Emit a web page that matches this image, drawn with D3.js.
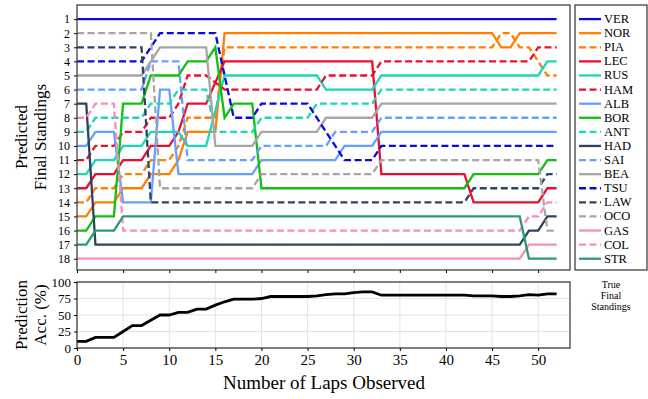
<!DOCTYPE html>
<html>
<head>
<meta charset="utf-8">
<script src="https://cdn.jsdelivr.net/npm/d3@7"></script>
<style>
  body { margin: 0; background: #fff; }
  text { font-family: "Liberation Serif", "DejaVu Serif", serif; fill: #000; }
</style>
</head>
<body>
<svg id="chart" width="648" height="399"></svg>
<script>
// drivers in true final order (legend order)
const drivers = ["VER","NOR","PIA","LEC","RUS","HAM","ALB","BOR","ANT","HAD","SAI","BEA","TSU","LAW","OCO","GAS","COL","STR"];
const colors  = ["#0a0ae0","#ff8000","#ff8000","#e8102e","#1dd6b6","#e8102e","#64a0ff","#10c010","#1dd6b6","#2f435e","#64a0ff","#a6a6a6","#0a0ae0","#2f435e","#a6a6a6","#f88cbe","#f88cbe","#2a9a72"];
const dashed  = [false,false,true,false,false,true,false,false,true,false,true,false,true,true,true,false,true,false];

// predicted final position, as [lap, position] keyframes
const VER = [[0,1],[52,1]];
const NOR = [[0,15],[1,15],[2,14],[4,14],[5,13],[7,13],[8,12],[10,12],[11,11],[12,9],[15,9],[16,2],[45,2],[46,3],[47,3],[48,2],[52,2]];
const PIA = [[0,14],[1,14],[2,13],[4,13],[5,12],[7,12],[8,11],[10,11],[11,10],[12,8],[15,8],[16,3],[45,3],[46,2],[47,2],[48,3],[49,3],[50,4],[51,5],[52,5]];
const LEC = [[0,13],[1,13],[2,12],[4,12],[5,11],[7,11],[8,10],[10,10],[11,9],[12,7],[14,7],[16,4],[32,4],[33,12],[42,12],[43,14],[50,14],[51,13],[52,13]];
const RUS = [[0,12],[1,12],[2,11],[4,11],[5,10],[7,10],[8,9],[10,9],[11,9],[12,10],[14,10],[16,5],[26,5],[27,6],[32,6],[33,5],[50,5],[51,4],[52,4]];
const HAM = [[0,11],[1,11],[2,10],[4,10],[5,9],[7,9],[8,8],[10,8],[11,7],[12,5],[14,5],[16,6],[26,6],[27,5],[32,5],[33,4],[49,4],[50,3],[52,3]];
const ALB = [[0,10],[1,10],[2,9],[4,9],[5,14],[8,14],[9,6],[10,6],[11,12],[19,12],[20,11],[28,11],[29,10],[32,10],[33,9],[52,9]];
const BOR = [[0,16],[1,16],[2,15],[4,15],[5,7],[7,7],[8,5],[11,5],[12,4],[14,4],[15,3],[16,8],[17,7],[19,7],[20,13],[42,13],[43,12],[50,12],[51,11],[52,11]];
const ANT = [[0,9],[1,9],[2,8],[7,8],[8,7],[10,7],[11,6],[14,6],[15,9],[19,9],[20,8],[25,8],[26,7],[32,7],[33,6],[52,6]];
const HAD = [[0,7],[1,7],[2,17],[48,17],[49,16],[50,16],[51,15],[52,15]];
const SAI = [[0,6],[7,6],[8,4],[11,4],[12,11],[19,11],[20,10],[27,10],[28,9],[32,9],[33,8],[52,8]];
const BEA = [[0,5],[7,5],[9,3],[14,3],[15,10],[19,10],[20,9],[26,9],[27,8],[32,8],[33,7],[52,7]];
const TSU = [[0,4],[7,4],[9,2],[15,2],[17,8],[19,8],[20,7],[25,7],[29,11],[32,11],[33,10],[52,10]];
const LAW = [[0,3],[7,3],[8,14],[42,14],[43,13],[50,13],[51,12],[52,12]];
const OCO = [[0,2],[8,2],[9,13],[19,13],[20,12],[32,12],[33,11],[50,11],[51,16],[52,16]];
const GAS = [[0,18],[48,18],[49,17],[52,17]];
const COL = [[0,8],[1,8],[2,7],[4,7],[5,16],[48,16],[49,15],[50,15],[51,14],[52,14]];
const STR = [[0,17],[1,17],[2,16],[4,16],[5,15],[48,15],[49,18],[52,18]];
const series = [VER,NOR,PIA,LEC,RUS,HAM,ALB,BOR,ANT,HAD,SAI,BEA,TSU,LAW,OCO,GAS,COL,STR];

// prediction accuracy (%) per lap observed, laps 0..52
const accuracy = [10,10,16,16,16,25,34,34,42,50,50,54,54,59,59,65,70,74,74,74,75,78,78,78,78,78,79,81,82,82,84,85,85,80,80,80,80,80,80,80,80,80,80,79,79,79,78,78,79,81,80,82,82];
const lapTicks = [0,5,10,15,20,25,30,35,40,45,50];
const posTicks = d3.range(1, 19);
const accTicks = [0,25,50,75,100];

const svg = d3.select("#chart");
const L = 77, R = 570;
const x = d3.scaleLinear().domain([0, 53.45]).range([L, R]);
const y = d3.scaleLinear().domain([0, 18.8]).range([5, 270]);
const yAcc = d3.scaleLinear().domain([0, 100]).range([348, 282]);

// ---- top panel
const topG = svg.append("g");
topG.append("g")
  .attr("transform", `translate(${L},0)`)
  .call(d3.axisLeft(y).tickValues(posTicks).tickSize(3).tickPadding(4))
  .call(g => g.select(".domain").remove())
  .call(g => g.selectAll("text").attr("font-size", 12).style("font-family", "Liberation Serif"));
topG.append("g")
  .attr("transform", `translate(0,270)`)
  .call(d3.axisBottom(x).tickValues(lapTicks).tickSize(3).tickFormat(""))
  .call(g => g.select(".domain").remove());

const line = d3.line().x(d => x(d[0])).y(d => y(d[1]));
series.forEach((s, i) => {
  topG.append("path")
    .datum(s)
    .attr("d", line)
    .attr("fill", "none")
    .attr("stroke", colors[i])
    .attr("stroke-width", 2.3)
    .attr("stroke-dasharray", dashed[i] ? "7,3.5" : null);
});
topG.append("rect").attr("x", L).attr("y", 5).attr("width", R - L).attr("height", 265)
  .attr("fill", "none").attr("stroke", "#333").attr("stroke-width", 1.2);

topG.append("text")
  .attr("transform", "translate(27,137) rotate(-90)")
  .attr("text-anchor", "middle").attr("font-size", 17).text("Predicted");
topG.append("text")
  .attr("transform", "translate(46,137) rotate(-90)")
  .attr("text-anchor", "middle").attr("font-size", 17).text("Final Standings");

// ---- legend
const leg = svg.append("g");
leg.append("rect").attr("x", 575).attr("y", 5).attr("width", 72).attr("height", 265)
  .attr("fill", "none").attr("stroke", "#333").attr("stroke-width", 1.2);
drivers.forEach((d, i) => {
  const yy = y(i + 1);
  leg.append("line").attr("x1", 579).attr("x2", 601).attr("y1", yy).attr("y2", yy)
    .attr("stroke", colors[i]).attr("stroke-width", 2.3)
    .attr("stroke-dasharray", dashed[i] ? "7,3.5" : null);
  leg.append("text").attr("x", 604).attr("y", yy + 4).attr("font-size", 12.5).text(d);
});
["True", "Final", "Standings"].forEach((t, i) => {
  svg.append("text").attr("x", 611).attr("y", 288 + i * 11).attr("text-anchor", "middle")
    .attr("font-size", 10).text(t);
});

// ---- bottom panel
const bot = svg.append("g");
bot.append("g").selectAll("line").data(lapTicks).join("line")
  .attr("x1", d => x(d)).attr("x2", d => x(d)).attr("y1", 282).attr("y2", 348)
  .attr("stroke", "#e3e3e3").attr("stroke-width", 1);
bot.append("g").selectAll("line").data(accTicks).join("line")
  .attr("x1", L).attr("x2", R).attr("y1", d => yAcc(d)).attr("y2", d => yAcc(d))
  .attr("stroke", "#e3e3e3").attr("stroke-width", 1);
bot.append("path")
  .datum(accuracy)
  .attr("d", d3.line().x((d, i) => x(i)).y(d => yAcc(d)))
  .attr("fill", "none").attr("stroke", "#000").attr("stroke-width", 2.8);
bot.append("rect").attr("x", L).attr("y", 282).attr("width", R - L).attr("height", 66)
  .attr("fill", "none").attr("stroke", "#333").attr("stroke-width", 1.2);
bot.append("g")
  .attr("transform", `translate(${L},0)`)
  .call(d3.axisLeft(yAcc).tickValues(accTicks).tickSize(3).tickPadding(3))
  .call(g => g.select(".domain").remove())
  .call(g => g.selectAll("text").attr("font-size", 13).style("font-family", "Liberation Serif"));
bot.append("g")
  .attr("transform", `translate(0,348)`)
  .call(d3.axisBottom(x).tickValues(lapTicks).tickSize(3).tickPadding(3))
  .call(g => g.select(".domain").remove())
  .call(g => g.selectAll("text").attr("font-size", 15).style("font-family", "Liberation Serif"));

bot.append("text")
  .attr("transform", "translate(27,315) rotate(-90)")
  .attr("text-anchor", "middle").attr("font-size", 17).text("Prediction");
bot.append("text")
  .attr("transform", "translate(46,315) rotate(-90)")
  .attr("text-anchor", "middle").attr("font-size", 17).text("Acc. (%)");
svg.append("text").attr("x", 324).attr("y", 389).attr("text-anchor", "middle")
  .attr("font-size", 19).text("Number of Laps Observed");
</script>
</body>
</html>
